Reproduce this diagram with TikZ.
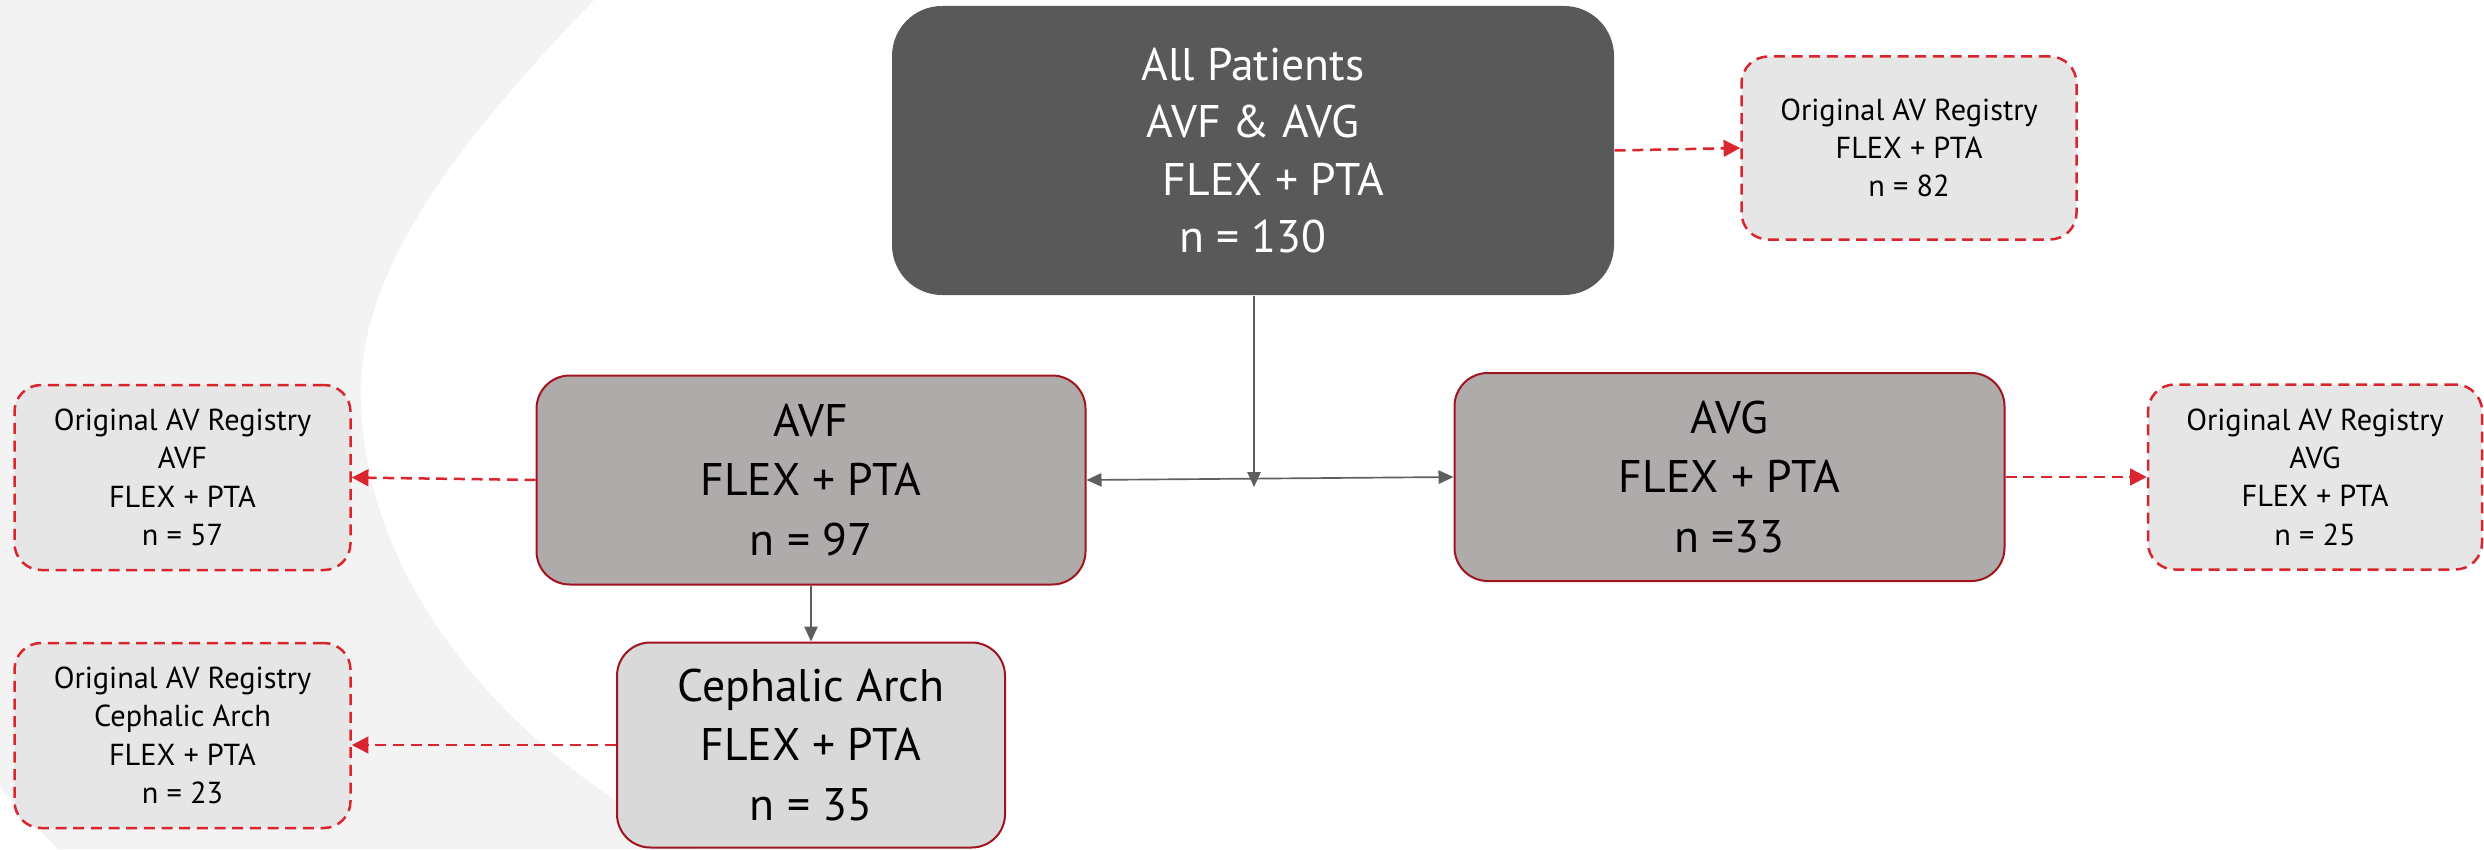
\documentclass[tikz,border=0pt]{standalone}
\usepackage{fontspec}
\setmainfont{PT Sans}
\usetikzlibrary{arrows.meta}
\definecolor{bggrey}{HTML}{F3F3F3}
\definecolor{topfill}{HTML}{595959}
\definecolor{midfill}{HTML}{AFABAB}
\definecolor{cephfill}{HTML}{D9D9D9}
\definecolor{regfill}{HTML}{E7E6E6}
\definecolor{darkred}{HTML}{A0141E}
\definecolor{dashred}{HTML}{D9262E}
\definecolor{connGrey}{HTML}{5E5E5E}
\tikzset{
  regbox/.style={draw=dashred, fill=regfill, line width=0.75pt, dash pattern=on 3.3pt off 2pt,
    rounded corners=8pt, inner sep=0pt, align=center,
    font=\fontsize{9.1}{11.5}\selectfont},
  topbox/.style={fill=topfill, text=white, rounded corners=15pt, inner sep=0pt, align=center,
    font=\fontsize{13.7}{17.2}\selectfont},
  midbox/.style={draw=darkred, fill=midfill, line width=0.6pt, rounded corners=10pt, inner sep=0pt,
    align=center, font=\fontsize{13.7}{17.9}\selectfont},
  cephbox/.style={midbox, fill=cephfill},
  redarrow/.style={draw=dashred, line width=0.75pt, dash pattern=on 3.3pt off 2pt,
    -{Triangle[length=5pt,width=5pt]}},
  greyarrow/.style={draw=connGrey, line width=0.5pt, -{Triangle[length=4.5pt,width=4pt]}},
}
\begin{document}
\begin{tikzpicture}[x=0.3pt,y=-0.3pt]
\useasboundingbox (0,0) rectangle (2484,849);
% background crescent
\fill[bggrey] (0,0) -- (594,0) .. controls (420,180) and (350,300) .. (362,420)
  .. controls (375,600) and (520,760) .. (700,849) -- (58,849) .. controls (30,820) and (10,800) .. (0,787) -- cycle;
% nodes
\node[topbox, minimum width=722*0.3pt, minimum height=289*0.3pt] (top) at (1253,150.5)
  {All Patients\\AVF \& AVG\\\hspace*{0.9em}FLEX + PTA\\n = 130};
\node[regbox, minimum width=335*0.3pt, minimum height=183*0.3pt] (regtop) at (1909,148)
  {Original AV Registry\\FLEX + PTA\\n = 82};
\node[midbox, minimum width=549*0.3pt, minimum height=209*0.3pt] (avf) at (811,480)
  {AVF\\FLEX + PTA\\n = 97};
\node[midbox, minimum width=550*0.3pt, minimum height=208*0.3pt] (avg) at (1729.5,477)
  {AVG\\FLEX + PTA\\n =33};
\node[cephbox, minimum width=388*0.3pt, minimum height=205*0.3pt] (ceph) at (811,745)
  {Cephalic Arch\\FLEX + PTA\\n = 35};
\node[regbox, minimum width=336*0.3pt, minimum height=185*0.3pt] (regavf) at (182.5,477.5)
  {Original AV Registry\\AVF\\FLEX + PTA\\n = 57};
\node[regbox, minimum width=336*0.3pt, minimum height=185*0.3pt] (regceph) at (182.5,735.5)
  {Original AV Registry\\Cephalic Arch\\FLEX + PTA\\n = 23};
\node[regbox, minimum width=334*0.3pt, minimum height=185*0.3pt] (regavg) at (2315,477)
  {Original AV Registry\\AVG\\FLEX + PTA\\n = 25};
% connectors
\coordinate (jn) at (1254,487);
\draw[greyarrow] (top.south -| jn) -- (jn);
\draw[greyarrow, {Triangle[length=4.5pt,width=4pt]}-{Triangle[length=4.5pt,width=4pt]}] (avf.east) -- (avg.west);
\draw[greyarrow] (avf.south) -- (ceph.north);
\draw[redarrow] (top.east) -- (regtop.west);
\draw[redarrow] (avf.west) -- (regavf.east);
\draw[redarrow] (avg.east) -- (regavg.west);
\draw[redarrow] (ceph.west) -- (ceph.west -| regceph.east);
\end{tikzpicture}
\end{document}
